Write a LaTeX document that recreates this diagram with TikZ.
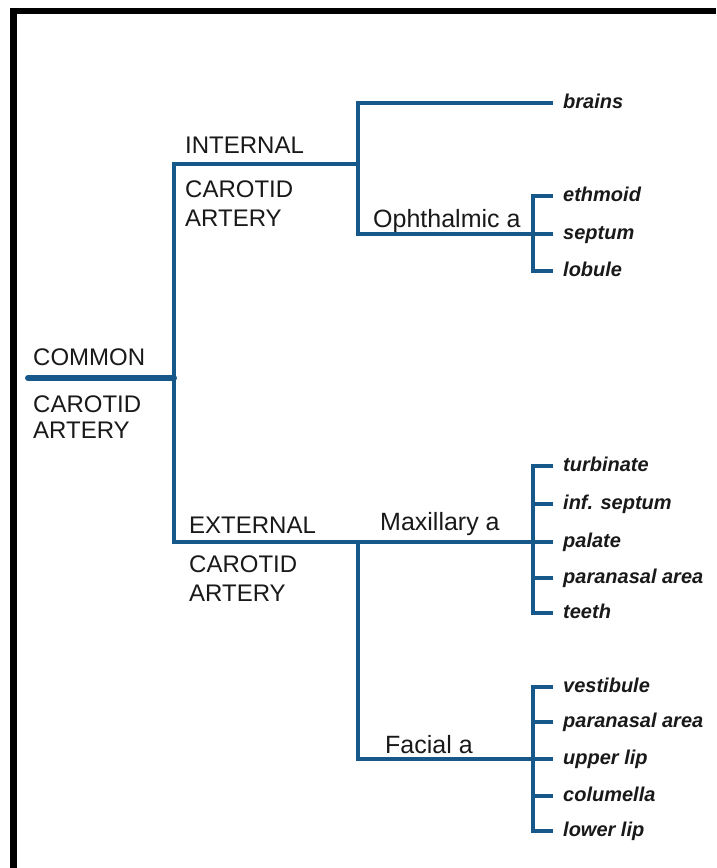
\documentclass[tikz,border=0pt]{standalone}
\usepackage{fontspec}
\setmainfont{Liberation Sans}
\usetikzlibrary{positioning,calc}
\definecolor{artery}{RGB}{22,88,138}

\begin{document}
\begin{tikzpicture}[x=1pt,y=-1pt,
				vessel/.style={draw=artery,line width=3.3pt,line join=miter},
				stem/.style={draw=artery,line width=6pt,line cap=round},
				frame/.style={draw=black,line width=6.5pt,line join=miter},
				caps/.style={anchor=base west,inner sep=0pt,text=black!90,font=\fontsize{24}{24}\selectfont},
				branch/.style={anchor=base west,inner sep=0pt,text=black!90,font=\fontsize{25}{25}\selectfont},
				leaf/.style={anchor=west,inner xsep=10pt,inner ysep=0pt,text height=14pt,text depth=4pt,
					text=black!90,font=\fontsize{20}{20}\selectfont\bfseries\itshape}]
				\useasboundingbox (0,0) rectangle (716,868);
				\draw[frame] (13.5,868) -- (13.5,11) -- (716,11);

				% labels of the main vessels
				\node (COMMON)   [caps]   at (33,365)  {COMMON};
				\node (CCA)      [caps]   at (33,412)  {CAROTID};
				\node (CCB)      [caps]   at (33,438)  {ARTERY};
				\node (INTERNAL) [caps]   at (185,153) {INTERNAL};
				\node (ICA)      [caps]   at (185,197) {CAROTID};
				\node (ICB)      [caps]   at (185,226) {ARTERY};
				\node (EXTERNAL) [caps]   at (189,533) {EXTERNAL};
				\node (ECA)      [caps]   at (189,572) {CAROTID};
				\node (ECB)      [caps]   at (189,601) {ARTERY};
				\node (OPH)      [branch] at (373,227) {Ophthalmic a};
				\node (MAX)      [branch] at (380,530) {Maxillary a};
				\node (FAC)      [branch] at (385,753) {Facial a};

				% end organs
				\node (brains)   [leaf] at (553,103) {brains};
				\node (ethmoid)  [leaf] at (553,196) {ethmoid};
				\node (septum)   [leaf] at (553,234) {septum};
				\node (lobule)   [leaf] at (553,271) {lobule};
				\node (turb)     [leaf] at (553,466) {turbinate};
				\node (infsep)   [leaf] at (553,504) {inf. septum};
				\node (palate)   [leaf] at (553,542) {palate};
				\node (paraA)    [leaf] at (553,578) {paranasal area};
				\node (teeth)    [leaf] at (553,613) {teeth};
				\node (vest)     [leaf] at (553,687) {vestibule};
				\node (paraB)    [leaf] at (553,722) {paranasal area};
				\node (ulip)     [leaf] at (553,759) {upper lip};
				\node (colum)    [leaf] at (553,796) {columella};
				\node (llip)     [leaf] at (553,831) {lower lip};

				\coordinate (root)  at (28,378);
				\coordinate (fork)  at (174,378);
				\coordinate (icfork) at (358,164);
				\coordinate (ecfork) at (358,542);
				\coordinate (ophbr) at (533,0);

				\draw[stem] (root) -- (fork);
				\draw[vessel] (icfork) -- (fork |- icfork) -- (fork |- palate.west) -- (palate.west);
				\draw[vessel] (brains.west) -- (brains.west -| icfork) -- (septum.west -| icfork) -- (septum.west);
				\draw[vessel] (ecfork) -- (ecfork |- ulip.west) -- (ulip.west);
				\draw[vessel] (ethmoid.west) -- (ethmoid.west -| ophbr) -- (lobule.west -| ophbr) -- (lobule.west);
				\draw[vessel] (turb.west) -- (turb.west -| ophbr) -- (teeth.west -| ophbr) -- (teeth.west);
				\draw[vessel] (infsep.west -| ophbr) -- (infsep.west);
				\draw[vessel] (paraA.west -| ophbr) -- (paraA.west);
				\draw[vessel] (vest.west) -- (vest.west -| ophbr) -- (llip.west -| ophbr) -- (llip.west);
				\draw[vessel] (paraB.west -| ophbr) -- (paraB.west);
				\draw[vessel] (colum.west -| ophbr) -- (colum.west);
			\end{tikzpicture}
\end{document}
